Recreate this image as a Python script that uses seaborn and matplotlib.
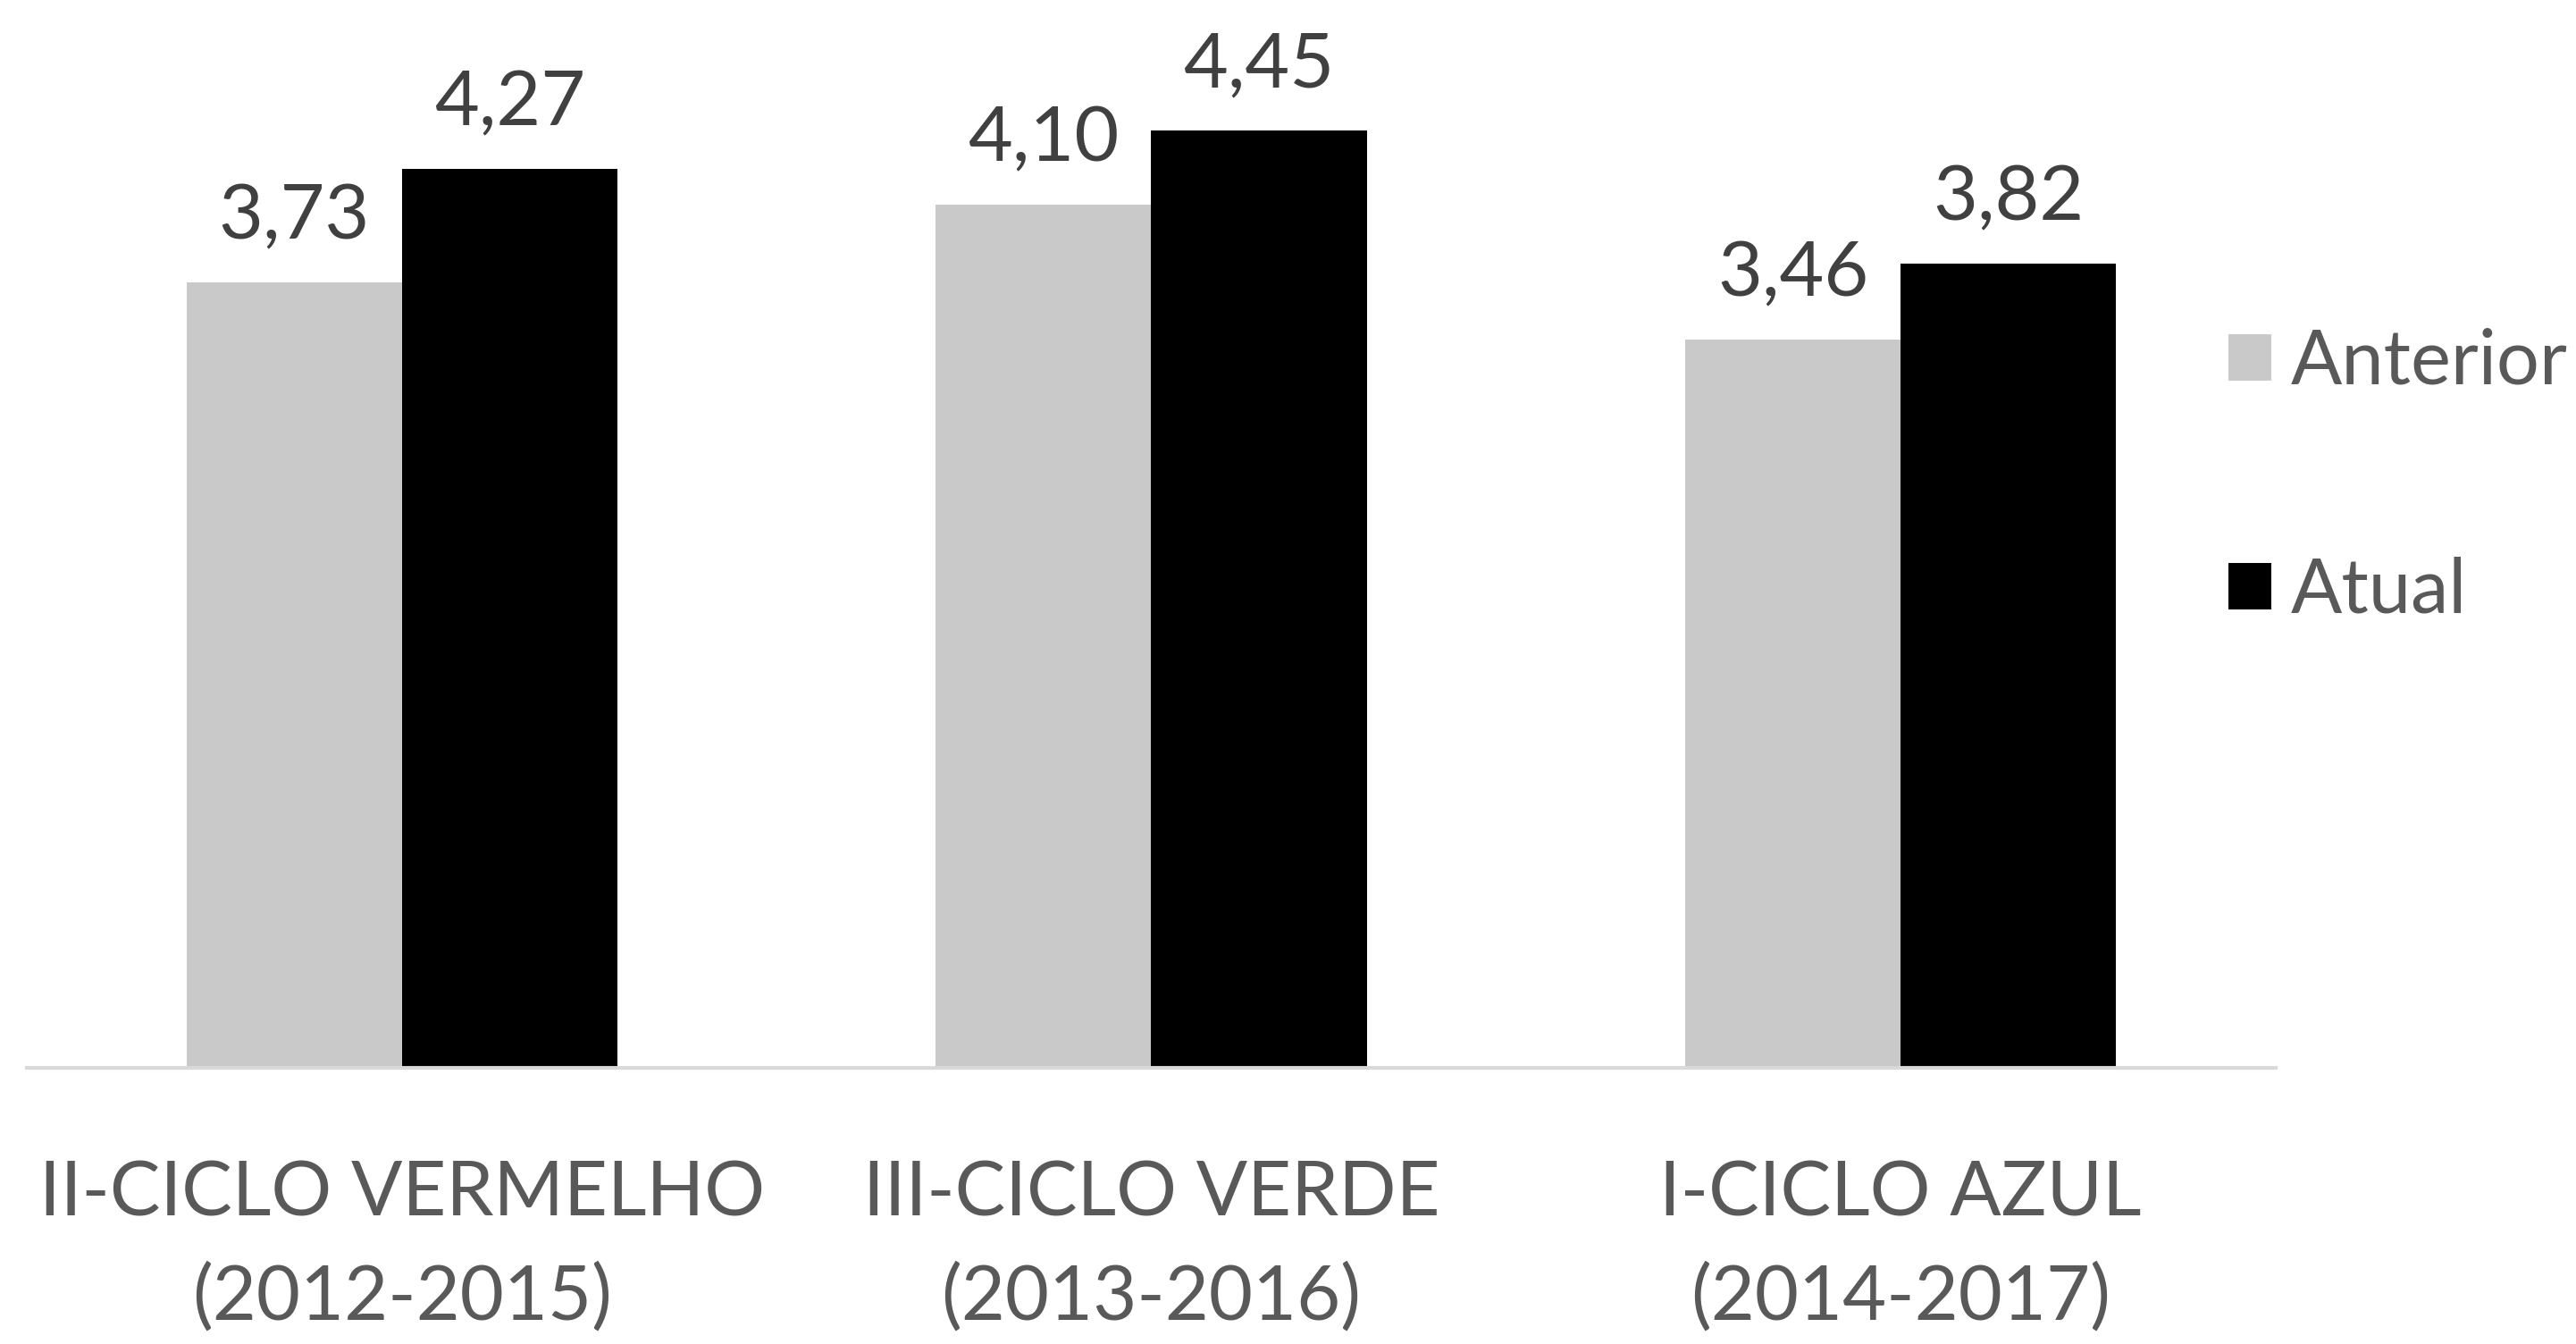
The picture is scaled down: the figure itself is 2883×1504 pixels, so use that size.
import pandas as pd
import matplotlib.pyplot as plt
import seaborn as sns

# Data
categories = ['II-CICLO VERMELHO\n(2012-2015)', 'III-CICLO VERDE\n(2013-2016)', 'I-CICLO AZUL\n(2014-2017)']
anterior = [3.73, 4.10, 3.46]
atual = [4.27, 4.45, 3.82]
series = ['Anterior', 'Atual']
colors = ['#C9C9C9', '#000000']

df = pd.DataFrame({
    'Ciclo': categories * 2,
    'Serie': ['Anterior'] * 3 + ['Atual'] * 3,
    'Valor': anterior + atual,
})

sns.set_style('white')
plt.rcParams['font.family'] = ['Lato', 'DejaVu Sans']
text_color = '#595959'
fs = 61

fig = plt.figure(figsize=(28.83, 15.04), dpi=100)
ax = fig.add_axes([0.0105, 0.2054, 0.8728, 0.7836])

sns.barplot(data=df, x='Ciclo', y='Valor', hue='Serie', hue_order=series,
            palette=colors, width=0.575, gap=0, saturation=1, ax=ax, legend=True,
            linewidth=0)

ax.set_ylim(0, 5)
ax.set_xlim(-0.5, 2.5)

for cont in ax.containers:
    ax.bar_label(cont, labels=[f'{v:.2f}'.replace('.', ',') for v in cont.datavalues],
                 padding=24, fontsize=fs + 1, color='#404040')

for s in ['top', 'right', 'left']:
    ax.spines[s].set_visible(False)
ax.spines['bottom'].set_color('#D9D9D9')
ax.spines['bottom'].set_linewidth(3)

ax.set_yticks([])
ax.set_xlabel('')
ax.set_ylabel('')
ax.tick_params(axis='x', length=0, pad=74, labelsize=fs, labelcolor=text_color)
for t in ax.get_xticklabels():
    t.set_linespacing(1.58)

handles, labels = ax.get_legend_handles_labels()
ax.get_legend().remove()
fig.legend(handles, labels, loc='center left', bbox_to_anchor=(0.865, 0.645),
           frameon=False, fontsize=fs, labelcolor=text_color,
           handlelength=0.57, handleheight=0.57, handletextpad=0.25,
           labelspacing=2.1, borderpad=0, borderaxespad=0)

fig.savefig('out.png', dpi=100, facecolor='white')
